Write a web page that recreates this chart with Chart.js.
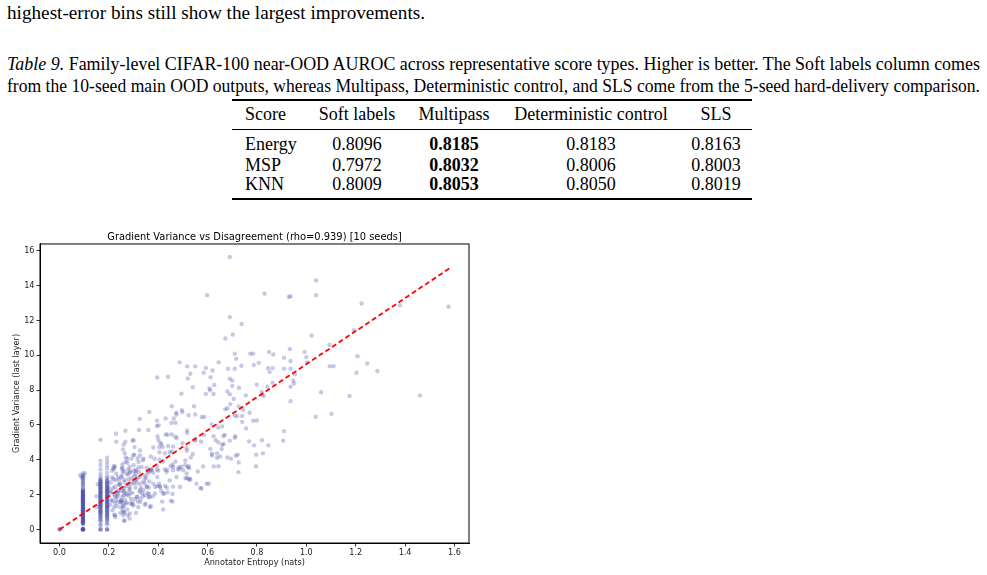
<!DOCTYPE html>
<html>
<head>
<meta charset="utf-8">
<script src="https://cdn.jsdelivr.net/npm/chart.js@4.4.1/dist/chart.umd.min.js"></script>
<style>
  body { margin: 0; background: #fff; width: 987px; height: 575px; overflow: hidden; position: relative; }
  .txt { position: absolute; font-family: "Liberation Serif", "Times New Roman", serif; font-size: 18.5px; line-height: 22px; color: #000; white-space: nowrap; }
  .cap { left: 7px; transform-origin: 0 0; }
  .rule { position: absolute; left: 232px; width: 520px; background: #000; }
  .cell { position: absolute; font-family: "Liberation Serif", "Times New Roman", serif; font-size: 18px; line-height: 20px; white-space: nowrap; }
  .c { transform: translateX(-50%); }
  #wrap { position: absolute; left: 0; top: 225px; width: 509px; height: 350px; }
</style>
</head>
<body>
<div class="txt" style="left:7px; top:2px; font-size:19.2px;">highest-error bins still show the largest improvements.</div>
<div class="txt cap" style="top:53px;"><i>Table 9.</i> Family-level CIFAR-100 near-OOD AUROC across representative score types. Higher is better. The Soft labels column comes</div>
<div class="txt cap" style="top:75px;">from the 10-seed main OOD outputs, whereas Multipass, Deterministic control, and SLS come from the 5-seed hard-delivery comparison.</div>

<div class="rule" style="top:99px; height:1.5px;"></div>
<div class="rule" style="top:128.5px; height:1px;"></div>
<div class="rule" style="top:198px; height:1.5px;"></div>
<div id="table"></div>

<div id="wrap"><canvas id="gradChart" width="509" height="350"></canvas></div>

<script>
// Table 9 contents
const tableHeader = ["Score", "Soft labels", "Multipass", "Deterministic control", "SLS"];
const tableRows = ["Energy", "MSP", "KNN"];
const softLabels = ["0.8096", "0.7972", "0.8009"];
const multipass = ["0.8185", "0.8032", "0.8053"];
const deterministic = ["0.8183", "0.8006", "0.8050"];
const sls = ["0.8163", "0.8003", "0.8019"];

// scatter: annotator entropy (x) vs gradient variance (y)
const scatterX = [
    // outliers / upper region
    0.69, 0.598, 0.831, 0.929, 0.936, 1.04, 1.04, 1.224, 1.379, 1.576,
    0.69, 0.738, 0.702, 0.672, 1.021, 1.193, 1.094, 1.207, 1.247, 1.288,
    1.46, 1.175, 1.203, 1.095, 1.11, 1.06, 1.102, 1.038,
    // 0.7 - 1.0
    0.993, 1.0, 1.003, 0.933, 0.91, 0.866, 0.849, 0.936, 0.91, 0.936,
    0.954, 0.947, 0.95, 0.936, 0.936, 0.91, 0.906, 0.819, 0.827, 0.863,
    0.842, 0.845, 0.863, 0.851, 0.807, 0.787, 0.773, 0.784, 0.737, 0.71,
    0.716, 0.683, 0.71,
    // 0.58 - 0.82
    0.645, 0.593, 0.62, 0.584, 0.612, 0.69, 0.7, 0.627, 0.608, 0.61,
    0.593, 0.624, 0.68, 0.69, 0.7, 0.727, 0.755, 0.799, 0.822, 0.587,
    0.616, 0.643, 0.659, 0.672, 0.68, 0.692, 0.706, 0.71, 0.72, 0.744,
    0.726, 0.74, 0.74, 0.785, 0.8, 0.77, 0.756, 0.664, 0.67, 0.69,
    0.71, 0.82,
    // 0.16 - 0.58 middle
    0.487, 0.517, 0.53, 0.55, 0.396, 0.44, 0.52, 0.494, 0.54, 0.545,
    0.55, 0.523, 0.498, 0.495, 0.474, 0.463, 0.47, 0.473, 0.455, 0.43,
    0.454, 0.395, 0.402, 0.364, 0.325, 0.395, 0.36, 0.322, 0.267, 0.229,
    0.166, 0.23, 0.267, 0.296, 0.3, 0.304, 0.326, 0.576, 0.397, 0.4,
    0.408, 0.413, 0.43, 0.437, 0.454, 0.469, 0.475, 0.418, 0.44, 0.37,
    0.38, 0.405, 0.404, 0.427, 0.447, 0.455, 0.46, 0.498, 0.517, 0.517,
    0.515, 0.516, 0.532, 0.54, 0.55, 0.548, 0.574,
    // 0.56 - 0.85 lower
    0.585, 0.624, 0.633, 0.644, 0.611, 0.617, 0.618, 0.638, 0.638, 0.65,
    0.659, 0.657, 0.665, 0.712, 0.68, 0.695, 0.714, 0.722, 0.726, 0.725,
    0.768, 0.788, 0.797, 0.796, 0.824, 0.846, 0.56, 0.582, 0.571, 0.605,
    0.644, 0.625,
    // 0.22 - 0.53, y 3 - 5
    0.509, 0.51, 0.525, 0.494, 0.483, 0.487, 0.47, 0.51, 0.516, 0.523,
    0.53, 0.523, 0.519, 0.48, 0.45, 0.458, 0.46, 0.436, 0.426, 0.42,
    0.405, 0.395, 0.395, 0.4, 0.373, 0.368, 0.38, 0.36, 0.362, 0.353,
    0.385, 0.338, 0.316, 0.326, 0.32, 0.32, 0.303, 0.3, 0.3, 0.31,
    0.284, 0.286, 0.275, 0.267, 0.264, 0.268, 0.275, 0.257, 0.26, 0.255,
    0.253, 0.225, 0.22,
    // 0.2 - 0.46 lower
    0.228, 0.242, 0.237, 0.238, 0.245, 0.264, 0.279, 0.292, 0.292, 0.3,
    0.312, 0.312, 0.326, 0.34, 0.35, 0.316, 0.326, 0.307, 0.31, 0.354,
    0.362, 0.388, 0.396, 0.404, 0.407, 0.412, 0.424, 0.428, 0.435, 0.46,
    0.438, 0.458, 0.451, 0.458, 0.416, 0.42, 0.37, 0.362, 0.366, 0.346,
    0.335, 0.325, 0.34, 0.328, 0.328, 0.349, 0.346, 0.306, 0.315, 0.3,
    0.31, 0.285, 0.276, 0.264, 0.258, 0.262, 0.284, 0.295, 0.295, 0.273,
    0.268, 0.26, 0.267, 0.273, 0.28, 0.286, 0.284, 0.262, 0.261, 0.257,
    0.255, 0.262, 0.249, 0.248, 0.25, 0.258, 0.256, 0.249, 0.257, 0.237,
    0.23, 0.225, 0.229, 0.225, 0.22, 0.218, 0.222, 0.226, 0.213, 0.21,
    0.206, 0.209, 0.2, 0.218, 0.221, 0.213, 0.213, 0.236, 0.24, 0.25,
    0.253, 0.277, 0.286, 0.256, 0.26,
    // dense lower cloud, second pass
    0.225, 0.222, 0.232, 0.238, 0.245, 0.252, 0.259, 0.263, 0.272, 0.279,
    0.286, 0.288, 0.292, 0.299, 0.306, 0.313, 0.319, 0.326, 0.333, 0.34,
    0.346, 0.353, 0.36, 0.366, 0.373, 0.38, 0.387, 0.396, 0.407, 0.42,
    0.434, 0.447, 0.461, 0.474, 0.488, 0.501, 0.515, 0.528, 0.555, 0.575,
    0.596, 0.205, 0.207, 0.215, 0.218, 0.224, 0.23, 0.234, 0.243, 0.247,
    0.251, 0.254, 0.262, 0.266, 0.27, 0.274, 0.278, 0.282, 0.29, 0.296,
    0.302, 0.308, 0.318, 0.322, 0.33, 0.338, 0.344, 0.352, 0.358, 0.364,
    0.378,
    // near the origin and between the stripes
    0, 0, 0.003, 0.084, 0.089, 0.102, 0.097, 0.15, 0.152, 0.155
];
const scatterY = [
    15.65, 13.46, 13.55, 13.35, 13.4, 14.3, 13.46, 12.98, 12.88, 12.79,
    12.2, 11.8, 11.2, 10.97, 11.14, 11.45, 10.6, 9.95, 9.53, 9.1,
    7.7, 7.67, 9.0, 9.38, 9.38, 7.88, 6.65, 6.47,

    10.2, 9.9, 9.6, 10.36, 9.86, 10.05, 10.2, 9.68, 9.24, 9.24,
    8.92, 8.55, 8.38, 8.2, 7.36, 5.65, 5.1, 7.9, 7.67, 8.43,
    8.2, 9.27, 9.27, 9.05, 9.57, 9.45, 10.1, 10.1, 9.4, 10.1,
    9.8, 9.23, 9.23,

    9.6, 9.28, 9.13, 9.0, 8.75, 8.66, 8.55, 8.3, 8.1, 7.99,
    7.78, 7.78, 7.93, 7.76, 8.25, 8.14, 7.7, 8.32, 7.76, 6.46,
    6.03, 5.85, 5.92, 6.9, 6.96, 7.2, 7.5, 6.54, 6.5, 6.88,
    7.07, 6.52, 6.18, 6.24, 6.26, 6.7, 5.8, 5.37, 5.43, 5.1,
    5.27, 5.12,

    9.6, 9.37, 8.94, 9.37, 8.73, 8.77, 8.67, 7.8, 8.17, 7.08,
    6.6, 6.56, 6.75, 6.85, 6.6, 6.37, 6.13, 6.7, 7.08, 6.38,
    6.12, 5.94, 5.98, 6.75, 6.35, 6.25, 5.71, 5.71, 5.67, 5.5,
    5.15, 5.04, 5.04, 5.1, 5.12, 4.73, 4.54, 6.46, 5.35, 5.15,
    4.98, 4.9, 5.46, 5.44, 5.46, 5.33, 5.25, 4.73, 4.79, 4.19,
    4.71, 4.44, 4.73, 4.38, 4.44, 4.48, 4.77, 4.96, 5.69, 5.54,
    4.67, 4.52, 4.13, 4.33, 5.1, 5.15, 5.04,

    5.44, 5.35, 5.12, 5.0, 4.63, 4.35, 4.25, 4.37, 4.12, 4.19,
    4.87, 4.62, 4.9, 5.35, 4.13, 4.06, 4.23, 4.29, 3.85, 3.29,
    5.06, 4.83, 4.29, 3.63, 4.37, 4.83, 3.33, 3.62, 2.38, 2.62,
    3.63, 3.62,

    3.71, 3.96, 3.52, 3.6, 3.58, 3.48, 3.9, 2.94, 2.96, 2.87,
    2.85, 3.63, 3.58, 3.44, 3.62, 3.73, 3.4, 3.42, 3.44, 3.9,
    4.0, 3.67, 3.44, 3.38, 3.48, 3.4, 3.25, 3.36, 3.29, 3.54,
    4.06, 3.98, 4.08, 4.25, 3.88, 3.56, 4.29, 3.69, 3.37, 3.33,
    3.6, 3.33, 3.83, 3.88, 4.38, 4.13, 4.06, 4.6, 4.87, 3.75,
    3.5, 3.6, 3.46,

    2.83, 2.85, 3.0, 2.56, 2.6, 2.73, 2.88, 2.94, 2.7, 2.63,
    2.87, 2.67, 2.62, 2.77, 2.92, 3.0, 3.02, 3.19, 3.42, 2.48,
    2.4, 2.44, 2.5, 2.63, 2.46, 2.21, 2.06, 2.5, 2.4, 2.46,
    2.12, 2.04, 1.65, 1.6, 1.6, 1.15, 1.33, 2.02, 1.85, 1.98,
    2.08, 2.15, 2.25, 1.77, 1.58, 1.48, 1.42, 1.73, 1.88, 1.38,
    0.94, 0.92, 0.81, 0.96, 0.81, 0.48, 0.63, 1.44, 1.54, 1.54,
    1.48, 1.31, 2.08, 2.02, 1.94, 2.33, 2.48, 2.38, 2.21, 2.19,
    1.9, 1.96, 1.71, 1.54, 1.6, 1.5, 1.33, 1.25, 1.08, 2.06,
    2.12, 1.87, 1.67, 1.52, 2.0, 2.37, 0.85, 0.71, 1.63, 1.69,
    2.12, 2.21, 2.4, 3.54, 3.65, 3.37, 2.98, 1.94, 1.58, 3.0,
    3.08, 3.15, 3.27, 3.3, 3.37,

    0.81, 1.29, 1.86, 2.25, 2.63, 1.67, 1.0, 0.52, 3.21, 2.63,
    2.06, 1.48, 4.07, 4.27, 2.82, 1.86, 1.29, 2.25, 3.59, 4.07,
    3.01, 2.44, 1.86, 1.29, 3.4, 2.63, 2.06, 3.01, 2.44, 2.06,
    3.3, 2.82, 3.59, 3.01, 2.44, 3.4, 3.21, 2.92, 2.63, 2.35,
    2.63, 1.4, 2.7, 1.1, 2.9, 2.45, 3.2, 1.35, 2.2, 0.95,
    2.4, 3.55, 2.85, 1.7, 2.5, 1.15, 3.45, 2.25, 1.75, 2.1,
    3.05, 2.4, 1.6, 3.3, 2.4, 1.9, 2.65, 3.15, 2.1, 2.75,
    1.9,

    0, 0, 0.02, 3.13, 3.0, 3.23, 3.1, 1.9, 1.3, 2.6
];

// the three dense vertical stripes (classes sharing the same entropy)
const stripeX = [0.095, 0.166, 0.193];
const stripeY = [
    [0, 0, 0, 0, 0.02, 0.04, 0.31, 0.35, 0.38, 0.44, 0.47, 0.53, 0.56, 0.62, 0.65, 0.71,
     0.74, 0.8, 0.83, 0.89, 0.92, 0.98, 1.01, 1.07, 1.1, 1.16, 1.19, 1.25, 1.28, 1.34,
     1.37, 1.43, 1.46, 1.52, 1.55, 1.61, 1.64, 1.7, 1.73, 1.79, 1.82, 1.88, 1.91, 1.97,
     2.0, 2.06, 2.09, 2.15, 2.19, 2.24, 2.36, 2.48, 2.62, 2.78, 2.92, 3.05, 3.22,
     0.33, 0.41, 0.5, 0.59, 0.68, 0.77, 0.86, 0.95, 1.04, 1.13, 1.22, 1.31, 1.4, 1.49,
     1.58, 1.67, 1.76, 1.85, 1.94, 2.03, 2.12, 2.21, 0, 0, 2.3, 2.55, 2.7, 2.85, 3.0],
    [0, 0, 0.22, 0.45, 0.6, 0.72, 0.85, 0.95, 1.02, 1.1, 1.2, 1.3, 1.38, 1.45, 1.55,
     1.62, 1.7, 1.8, 1.88, 1.95, 2.05, 2.12, 2.2, 2.3, 2.38, 2.45, 2.55, 2.62, 2.72,
     2.8, 2.9, 3.02, 3.2, 3.45, 3.7, 3.94,
     0.3, 0.52, 0.66, 0.78, 0.9, 0.99, 1.06, 1.15, 1.25, 1.34, 1.42, 1.5, 1.59, 1.66,
     1.75, 1.84, 1.92, 2.0, 2.09, 2.16, 2.25, 2.34, 2.42, 2.5, 2.6, 2.68, 2.76, 2.86, 0],
    [0, 0, 0.28, 0.5, 0.62, 0.75, 0.85, 0.95, 1.05, 1.15, 1.25, 1.32, 1.4, 1.5, 1.58,
     1.65, 1.75, 1.85, 1.92, 2.0, 2.1, 2.18, 2.25, 2.35, 2.45, 2.55, 2.65, 2.75, 2.85,
     3.05, 3.25, 3.5, 3.7, 3.9, 4.12,
     0.36, 0.56, 0.7, 0.8, 0.9, 1.0, 1.1, 1.2, 1.28, 1.36, 1.45, 1.54, 1.62, 1.7,
     1.8, 1.88, 1.96, 2.05, 2.14, 2.22, 2.3, 2.4, 2.5, 2.6, 2.7, 2.8, 2.95, 0]
];

// dashed red trend line end points
const fitX = [0, 1.58];
const fitY = [0, 15.0];

const xTicks = [0, 0.2, 0.4, 0.6, 0.8, 1.0, 1.2, 1.4, 1.6];
const yTicks = [0, 2, 4, 6, 8, 10, 12, 14, 16];
const xLimits = [-0.079, 1.659];
const yLimits = [-0.78, 16.4];

// squeeze each caption line to the justified column width
document.querySelectorAll(".cap").forEach(el => {
    const w = el.getBoundingClientRect().width;
    el.style.transform = "scaleX(" + (973 / w) + ")";
});

// build the table
const table = document.getElementById("table");
const colCenters = [null, 357, 454, 591, 716];
const rowTops = [104, 134, 155, 174];
function addCell(text, col, top, bold) {
    const d = document.createElement("div");
    d.className = "cell" + (col ? " c" : "");
    d.style.left = (col ? colCenters[col] : 245) + "px";
    d.style.top = top + "px";
    if (bold) d.style.fontWeight = "bold";
    d.textContent = text;
    table.appendChild(d);
}
tableHeader.forEach((h, i) => addCell(h, i, rowTops[0]));
tableRows.forEach((r, i) => {
    const top = rowTops[i + 1];
    addCell(r, 0, top);
    addCell(softLabels[i], 1, top);
    addCell(multipass[i], 2, top, true);
    addCell(deterministic[i], 3, top);
    addCell(sls[i], 4, top);
});

// chart
const points = scatterX.map((x, i) => ({ x: x, y: scatterY[i] }));
stripeX.forEach((x, k) => stripeY[k].forEach(y => points.push({ x: x, y: y })));
const fitLine = fitX.map((x, i) => ({ x: x, y: fitY[i] }));

const tickFont = { family: "DejaVu Sans", size: 8.1 };

const framePlugin = {
    id: "frame",
    afterDraw(chart) {
        const { ctx, chartArea: a } = chart;
        ctx.save();
        ctx.strokeStyle = "#000";
        ctx.lineWidth = 1;
        ctx.strokeRect(a.left, a.top, a.right - a.left, a.bottom - a.top);
        ctx.restore();
    }
};

new Chart(document.getElementById("gradChart"), {
    type: "scatter",
    data: {
        datasets: [
            {
                label: "classes",
                data: points,
                backgroundColor: "rgba(68, 74, 165, 0.3)",
                borderWidth: 0,
                pointRadius: 2.2,
                order: 2
            },
            {
                type: "line",
                label: "fit",
                data: fitLine,
                borderColor: "#ff0000",
                borderWidth: 1.8,
                borderDash: [5, 3],
                pointRadius: 0,
                fill: false,
                order: 1
            }
        ]
    },
    options: {
        responsive: false,
        animation: false,
        events: [],
        layout: { padding: { left: 0, right: 40, top: 0, bottom: 0 } },
        plugins: {
            legend: { display: false },
            tooltip: { enabled: false },
            title: {
                display: true,
                fullSize: false,
                text: "Gradient Variance vs Disagreement (rho=0.939) [10 seeds]",
                color: "#000",
                font: { family: "DejaVu Sans", size: 9.9, weight: "normal" },
                padding: { top: 6.5, bottom: 0.6 }
            }
        },
        scales: {
            x: {
                type: "linear",
                min: xLimits[0],
                max: xLimits[1],
                afterBuildTicks: s => { s.ticks = xTicks.map(v => ({ value: v })); },
                afterFit: s => { s.height = 32; },
                grid: { drawOnChartArea: false, drawTicks: true, tickLength: 3.5, tickColor: "#000", tickWidth: 0.8 },
                border: { color: "#000", width: 1 },
                ticks: { color: "#222", font: tickFont, padding: 2, maxRotation: 0, autoSkip: false, callback: v => v.toFixed(1) },
                title: { display: true, text: "Annotator Entropy (nats)", color: "#222", font: tickFont, padding: { top: 0, bottom: 6.8 } }
            },
            y: {
                type: "linear",
                min: yLimits[0],
                max: yLimits[1],
                afterBuildTicks: s => { s.ticks = yTicks.map(v => ({ value: v })); },
                afterFit: s => { s.width = 40; },
                grid: { drawOnChartArea: false, drawTicks: true, tickLength: 3.5, tickColor: "#000", tickWidth: 0.8 },
                border: { color: "#000", width: 1 },
                ticks: { color: "#222", font: tickFont, padding: 2, autoSkip: false, callback: v => String(v) },
                title: { display: true, text: "Gradient Variance (last layer)", color: "#222", font: tickFont, padding: { top: 12.1, bottom: 0 } }
            }
        }
    },
    plugins: [framePlugin]
});
</script>
</body>
</html>
